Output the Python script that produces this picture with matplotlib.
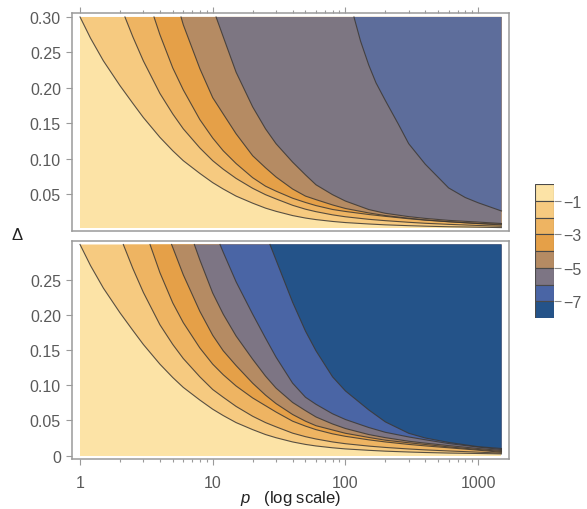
import numpy as np
import matplotlib
matplotlib.use("Agg")
import matplotlib.pyplot as plt
from matplotlib.patches import Rectangle
from matplotlib.ticker import FixedLocator, NullFormatter

plt.rcParams['font.family'] = ['Liberation Sans', 'DejaVu Sans']
plt.rcParams['mathtext.fontset'] = 'custom'
plt.rcParams['mathtext.it'] = 'Liberation Sans:italic'
plt.rcParams['mathtext.rm'] = 'Liberation Sans'

#------------------------------------------------------------data
# contour boundaries (levels -1 ... -7) as (p, Delta)

# top panel
t1_p = [1, 1.2, 1.5, 2, 2.5, 3, 4, 5, 6, 8, 10, 12, 15, 20, 25, 30, 40, 50, 60, 80, 100, 150, 200, 300, 400, 600, 1000, 1500]
t1_d = [0.300, 0.270, 0.238, 0.203, 0.178, 0.158, 0.130, 0.111, 0.097, 0.079, 0.066, 0.057, 0.047, 0.037, 0.030, 0.0255,
        0.0195, 0.0160, 0.0138, 0.0112, 0.0096, 0.0076, 0.0064, 0.0052, 0.0045, 0.0037, 0.0031, 0.0025]

t2_p = [2.18, 2.5, 3, 4, 5, 6, 8, 10, 12, 15, 20, 25, 30, 40, 50, 60, 80, 100, 150, 200, 300, 400, 600, 1000, 1500]
t2_d = [0.300, 0.272, 0.238, 0.192, 0.163, 0.142, 0.115, 0.097, 0.085, 0.072, 0.058, 0.049, 0.043, 0.034, 0.0285,
        0.025, 0.0205, 0.0178, 0.0142, 0.0123, 0.0100, 0.0086, 0.0071, 0.0055, 0.0044]

t3_p = [3.61, 4, 5, 6, 8, 10, 12, 15, 20, 25, 30, 40, 50, 60, 80, 100, 150, 200, 300, 400, 600, 1000, 1500]
t3_d = [0.300, 0.275, 0.228, 0.197, 0.155, 0.129, 0.111, 0.093, 0.073, 0.061, 0.054, 0.044, 0.038, 0.0336, 0.0281,
        0.0253, 0.0210, 0.0184, 0.0150, 0.0130, 0.0109, 0.0082, 0.0062]

t4_p = [5.77, 6, 8, 10, 12, 15, 20, 25, 30, 40, 50, 60, 80, 100, 150, 200, 300, 400, 600, 1000, 1500]
t4_d = [0.300, 0.289, 0.227, 0.186, 0.163, 0.135, 0.104, 0.087, 0.074, 0.057, 0.047, 0.042, 0.0345, 0.0295, 0.0232,
        0.0195, 0.0157, 0.0133, 0.0107, 0.0083, 0.0072]

t5_p = [10.6, 12, 15, 20, 25, 30, 40, 50, 60, 80, 100, 150, 200, 300, 400, 600, 1000, 1500]
t5_d = [0.300, 0.272, 0.222, 0.173, 0.142, 0.121, 0.095, 0.077, 0.063, 0.049, 0.040, 0.028, 0.0227, 0.018, 0.0155,
        0.0127, 0.0103, 0.0083]

t6_p = [116, 130, 150, 170, 200, 250, 300, 400, 600, 800, 1000, 1500]
t6_d = [0.300, 0.266, 0.232, 0.207, 0.182, 0.149, 0.121, 0.092, 0.0585, 0.045, 0.0376, 0.026]

# bottom panel
b1_p = t1_p
b1_d = t1_d

b2_p = [2.12, 2.5, 3, 4, 5, 6, 8, 10, 12, 15, 20, 25, 30, 40, 50, 60, 80, 100, 150, 200, 300, 400, 600, 1000, 1500]
b2_d = [0.300, 0.266, 0.232, 0.186, 0.158, 0.138, 0.112, 0.094, 0.083, 0.070, 0.056, 0.047, 0.041, 0.032, 0.027,
        0.0237, 0.0195, 0.0170, 0.0136, 0.0117, 0.0095, 0.0082, 0.0067, 0.0050, 0.0036]

b3_p = [3.37, 4, 5, 6, 8, 10, 12, 15, 20, 25, 30, 40, 50, 60, 80, 100, 150, 200, 300, 400, 600, 1000, 1500]
b3_d = [0.300, 0.260, 0.217, 0.189, 0.153, 0.130, 0.115, 0.099, 0.082, 0.071, 0.062, 0.049, 0.042, 0.037, 0.031,
        0.0275, 0.0225, 0.0195, 0.016, 0.0139, 0.0112, 0.0078, 0.0048]

b4_p = [4.9, 6, 8, 10, 12, 15, 20, 25, 30, 40, 50, 60, 80, 100, 150, 200, 300, 400, 600, 1000, 1500]
b4_d = [0.300, 0.257, 0.205, 0.171, 0.149, 0.128, 0.103, 0.086, 0.074, 0.0585, 0.049, 0.0426, 0.0365, 0.0318, 0.0259,
        0.022, 0.0183, 0.0159, 0.0125, 0.0088, 0.006]

b5_p = [7.27, 8, 10, 12, 15, 20, 25, 30, 40, 50, 60, 80, 100, 150, 200, 300, 400, 600, 1000, 1500]
b5_d = [0.300, 0.278, 0.231, 0.201, 0.170, 0.137, 0.113, 0.096, 0.0756, 0.064, 0.055, 0.045, 0.0386, 0.030, 0.0256,
        0.0205, 0.0178, 0.0143, 0.0102, 0.0074]

b6_p = [11.35, 12, 15, 20, 25, 30, 40, 50, 60, 80, 100, 150, 200, 300, 400, 600, 1000, 1500]
b6_d = [0.300, 0.289, 0.247, 0.201, 0.167, 0.140, 0.103, 0.083, 0.073, 0.0595, 0.0514, 0.040, 0.0332, 0.0266, 0.0226,
        0.0172, 0.0122, 0.0088]

b7_p = [27, 30, 40, 50, 60, 80, 100, 150, 200, 300, 400, 600, 1000, 1500]
b7_d = [0.300, 0.278, 0.218, 0.177, 0.149, 0.112, 0.092, 0.065, 0.048, 0.0318, 0.0251, 0.0188, 0.0128, 0.0102]

# region colours, lightest (above -1) to darkest (below -7)
bottom_colors = ['#FCE3A6', '#F6CA80', '#EEB462', '#E5A048', '#B58B63', '#7D7584', '#4A65A5', '#245389']
top_colors = ['#FCE3A6', '#F6CA80', '#EEB462', '#E5A048', '#B58B63', '#7D7682', '#5D6D9B']

legend_ticks = [-1, -3, -5, -7]
legend_labels = ['\u22121', '\u22123', '\u22125', '\u22127']

p_major = [1, 10, 100, 1000]
p_major_labels = ['1', '10', '100', '1000']
p_minor = [2, 3, 4, 5, 6, 7, 8, 9, 20, 30, 40, 50, 60, 70, 80, 90, 200, 300, 400, 500, 600, 700, 800, 900]

top_yticks = [0.05, 0.10, 0.15, 0.20, 0.25, 0.30]
top_ylabels = ['0.05', '0.10', '0.15', '0.20', '0.25', '0.30']
bot_yticks = [0, 0.05, 0.10, 0.15, 0.20, 0.25]
bot_ylabels = ['0', '0.05', '0.10', '0.15', '0.20', '0.25']

p_min, p_max = 1, 1500
d_max = 0.3

#------------------------------------------------------------plot
frame_col = '#9a9a9a'
tick_col = '#5a5a5a'
line_col = '#3c3834'


def draw_panel(ax, curves, colors, d_min):
  # background = region above level -1
  ax.add_patch(Rectangle((p_min, d_min), p_max - p_min, d_max - d_min, facecolor=colors[0], lw=0, zorder=1))
  for k, (pp, dd) in enumerate(curves):
    xs = list(pp) + [p_max]
    ys = list(dd) + [d_max]
    ax.fill(xs, ys, facecolor=colors[k + 1], lw=0, zorder=2)
  for pp, dd in curves:
    ax.plot(pp, dd, color=line_col, lw=0.8, alpha=0.85, zorder=3, solid_joinstyle='round')

  ax.set_xscale('log')
  ax.set_xlim(0.87, 1710)
  ax.xaxis.set_major_locator(FixedLocator(p_major))
  ax.xaxis.set_minor_locator(FixedLocator(p_minor))
  ax.xaxis.set_minor_formatter(NullFormatter())
  for s in ax.spines.values():
    s.set_color(frame_col)
    s.set_linewidth(1.1)
  ax.tick_params(which='both', colors=frame_col, labelcolor=tick_col, labelsize=11.5, width=0.8)
  ax.tick_params(axis='y', direction='out', length=4.5, pad=3.5, right=False)
  ax.tick_params(axis='x', which='major', length=4.5)
  ax.tick_params(axis='x', which='minor', length=2.5)


fig = plt.figure(figsize=(5.87, 5.10), dpi=100)

ax_top = fig.add_axes([72 / 587, 1 - 232 / 510, 437 / 587, 218 / 510])
draw_panel(ax_top, [(t1_p, t1_d), (t2_p, t2_d), (t3_p, t3_d), (t4_p, t4_d), (t5_p, t5_d), (t6_p, t6_d)],
           top_colors, 0.002)
ax_top.set_ylim(-0.0023, 0.3056)
ax_top.set_yticks(top_yticks)
ax_top.set_yticklabels(top_ylabels)
ax_top.tick_params(axis='x', which='both', direction='out', bottom=False, top=True,
                   labelbottom=False, labeltop=False)

ax_bot = fig.add_axes([72 / 587, 1 - 459.7 / 510, 437 / 587, 218 / 510])
draw_panel(ax_bot, [(b1_p, b1_d), (b2_p, b2_d), (b3_p, b3_d), (b4_p, b4_d), (b5_p, b5_d), (b6_p, b6_d), (b7_p, b7_d)],
           bottom_colors, 0.0)
ax_bot.set_ylim(-0.0043, 0.3054)
ax_bot.set_yticks(bot_yticks)
ax_bot.set_yticklabels(bot_ylabels)
ax_bot.set_xticklabels(p_major_labels)
ax_bot.tick_params(axis='x', which='both', direction='out', bottom=True, top=False, pad=7)

# legend swatches
lax = fig.add_axes([535 / 587, 1 - 319 / 510, 19 / 587, 134 / 510])
for i, c in enumerate(bottom_colors):
  lax.add_patch(Rectangle((0, -(i + 1)), 1, 1, facecolor=c, edgecolor='#4a4a4a', lw=0.8))
lax.set_xlim(0, 1)
lax.set_ylim(-8, 0)
lax.set_xticks([])
lax.yaxis.tick_right()
lax.set_yticks(legend_ticks)
lax.set_yticklabels(legend_labels)
lax.tick_params(axis='y', direction='out', length=5, width=0.8, colors='#8a8a8a', labelcolor=tick_col,
                labelsize=11.5, pad=2)
for s in lax.spines.values():
  s.set_visible(False)

fig.text(17 / 587, 1 - 236 / 510, '\u0394', fontsize=12, color='#222222', ha='center', va='center')
fig.text(290.5 / 587, 1 - 499 / 510, r'$p$   (log scale)', fontsize=12, color='#222222', ha='center', va='center')

fig.savefig('out.png', dpi=100)
